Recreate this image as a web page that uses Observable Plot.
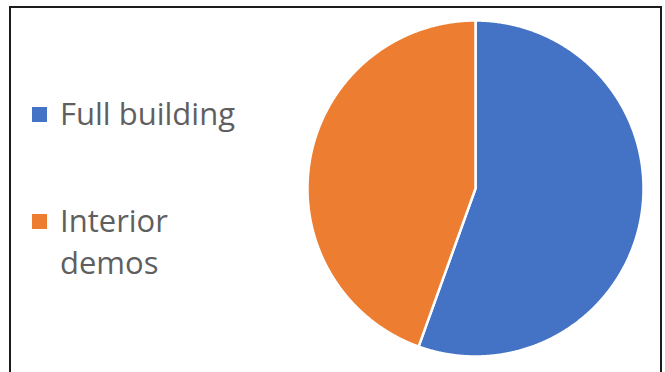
<!DOCTYPE html>
<html>
<head>
<meta charset="utf-8">
<script src="https://cdn.jsdelivr.net/npm/d3@7"></script>
<script src="https://cdn.jsdelivr.net/npm/@observablehq/plot@0.6"></script>
<style>
  html, body { margin: 0; padding: 0; background: #fff; }
  #wrap { position: relative; width: 665px; height: 372px; overflow: hidden; background: #fff; }
  #frame { position: absolute; left: 9px; top: 6px; width: 649px; height: 420px; border: 2px solid #1c1c1c; box-sizing: content-box; }
  #chart { position: absolute; left: 0; top: 0; }
  .lg { position: absolute; left: 32px; font-family: "Open Sans", sans-serif; font-size: 31px; line-height: 42px; color: #5f5f5f; width: 200px; }
  .lg .sw { position: absolute; left: 0; width: 15px; height: 15px; }
  .lg .tx { position: absolute; left: 28px; width: 200px; }
</style>
</head>
<body>
<div id="wrap">
  <div id="frame"></div>
  <div id="chart"></div>
</div>
<script>
const categories = ["Full building", "Interior demos"];
const values = [55.5, 44.5];
const colors = ["#4472C4", "#ED7D31"];

const W = 665, H = 372;
const cx = 475, cy = 188, R = 168;

const pie = d3.pie().sort(null).value(d => d.value)(categories.map((c, i) => ({category: c, value: values[i]})));
const pts = [];
for (const s of pie) {
  const cat = s.data.category;
  pts.push({category: cat, x: 0, y: 0});
  const n = Math.max(2, Math.ceil((s.endAngle - s.startAngle) / 0.005));
  for (let k = 0; k <= n; k++) {
    const a = s.startAngle + (s.endAngle - s.startAngle) * k / n;
    pts.push({category: cat, x: Math.sin(a), y: Math.cos(a)});
  }
  pts.push({category: cat, x: 0, y: 0});
}

const plot = Plot.plot({
  width: W,
  height: H,
  margin: 0,
  x: {domain: [-cx / R, (W - cx) / R], range: [0, W], axis: null},
  y: {domain: [-(H - cy) / R, cy / R], range: [H, 0], axis: null},
  color: {domain: categories, range: colors},
  style: {background: "transparent", overflow: "visible"},
  marks: [
    Plot.line(pts, {x: "x", y: "y", z: "category", fill: "category", stroke: "white", strokeWidth: 2.5, strokeLinejoin: "round", curve: "linear"})
  ]
});
document.getElementById("chart").appendChild(plot);

const tops = [92, 199];
const wrap = document.getElementById("wrap");
categories.forEach((c, i) => {
  const d = document.createElement("div");
  d.className = "lg";
  d.style.top = tops[i] + "px";
  const sw = document.createElement("span");
  sw.className = "sw";
  sw.style.background = colors[i];
  sw.style.top = "15px";
  const tx = document.createElement("span");
  tx.className = "tx";
  tx.textContent = c;
  d.appendChild(sw);
  d.appendChild(tx);
  wrap.appendChild(d);
});
</script>
</body>
</html>
